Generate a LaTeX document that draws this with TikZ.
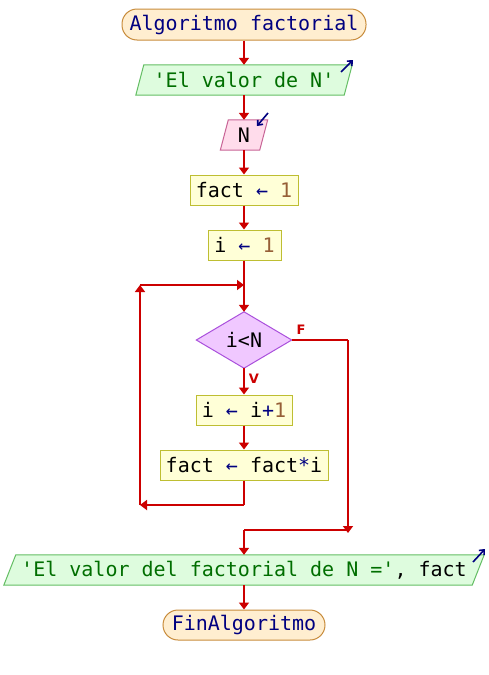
\documentclass[tikz,border=0pt]{standalone}
\usepackage{fontspec}
\setmonofont{DejaVu Sans Mono}
\setsansfont{DejaVu Sans}
\usetikzlibrary{arrows.meta}
\definecolor{kwc}{RGB}{0,0,128}
\definecolor{strc}{RGB}{0,110,0}
\definecolor{numc}{RGB}{150,95,55}
\definecolor{flow}{RGB}{204,0,0}
\definecolor{termfill}{RGB}{255,238,208}
\definecolor{termdraw}{RGB}{200,140,60}
\definecolor{outfill}{RGB}{222,252,222}
\definecolor{outdraw}{RGB}{100,190,100}
\definecolor{infill}{RGB}{255,220,235}
\definecolor{indraw}{RGB}{200,100,150}
\definecolor{procfill}{RGB}{255,255,215}
\definecolor{procdraw}{RGB}{190,190,50}
\definecolor{decfill}{RGB}{240,200,255}
\definecolor{decdraw}{RGB}{170,80,220}
\newcommand{\kwt}[1]{\textcolor{kwc}{#1}}
\newcommand{\strt}[1]{\textcolor{strc}{#1}}
\newcommand{\numt}[1]{\textcolor{numc}{#1}}
\newcommand{\asg}{\textcolor{kwc}{←}}
\begin{document}
\begin{tikzpicture}[x=1pt,y=-1pt,
  every node/.style={font=\ttfamily\fontsize{20}{20}\selectfont, inner sep=0pt},
  term/.style={draw=termdraw, fill=termfill, line width=1pt, rounded corners=15pt, minimum height=31pt},
  proc/.style={draw=procdraw, fill=procfill, line width=1pt, minimum height=30pt},
  txt/.style={minimum height=30pt},
  iobox/.style={draw=outdraw, fill=outfill, line width=1pt},
  inbox/.style={draw=indraw, fill=infill, line width=1pt},
  decbox/.style={draw=decdraw, fill=decfill, line width=1pt},
  flowline/.style={draw=flow, line width=2pt},
  flowarrow/.style={flowline, -{Triangle[length=7pt,width=10pt]}},
  icon/.style={draw=kwc, line width=1.6pt, -{Straight Barb[length=4pt,width=7pt]}},
  lbl/.style={font=\sffamily\bfseries\fontsize{13}{13}\selectfont, text=flow}
]
\useasboundingbox (0,0) rectangle (488,675);
\fill[white] (0,0) rectangle (488,675);

% start
\node[term, minimum width=244pt] (start) at (244,24.5) {\kwt{Algoritmo factorial}};

% output 1
\node[txt, minimum width=216pt] (o1) at (244,80) {};
\path[iobox] ([xshift=8pt]o1.north west) -- (o1.north east) -- ([xshift=-8pt]o1.south east) -- (o1.south west) -- cycle;
\node at (o1) {\strt{'El valor de N'}};
\coordinate (o1i1) at (341,72);
\coordinate (o1i2) at (353,60);
\draw[icon] (o1i1) -- (o1i2);

% input N
\node[txt, minimum width=47pt] (inN) at (244,135) {};
\path[inbox] ([xshift=8pt]inN.north west) -- (inN.north east) -- ([xshift=-8pt]inN.south east) -- (inN.south west) -- cycle;
\node at (inN) {N};
\coordinate (ni1) at (268,113);
\coordinate (ni2) at (257,126);
\draw[icon] (ni1) -- (ni2);

% processes
\node[proc, minimum width=108pt] (p1) at (244,190) {fact \asg{} \numt{1}};
\node[proc, minimum width=73pt] (p2) at (244.5,245) {i \asg{} \numt{1}};

% decision
\node[txt, minimum width=95pt, minimum height=56pt] (dia) at (244,340) {};
\path[decbox] (dia.north) -- (dia.east) -- (dia.south) -- (dia.west) -- cycle;
\node at (dia) {i<N};

\node[proc, minimum width=96pt] (p3) at (244,410) {i \asg{} i\kwt{+}\numt{1}};
\node[proc, minimum width=168pt] (p4) at (244,465) {fact \asg{} fact\kwt{*}i};

% output 2
\node[txt, minimum width=480pt] (o2) at (244,570) {};
\path[iobox] ([xshift=12pt]o2.north west) -- (o2.north east) -- ([xshift=-12pt]o2.south east) -- (o2.south west) -- cycle;
\node at (o2) {\strt{'El valor del factorial de N ='}, fact};
\coordinate (o2i1) at (473,562);
\coordinate (o2i2) at (485,549);
\draw[icon] (o2i1) -- (o2i2);

% end
\node[term, minimum width=162pt, minimum height=30pt] (fin) at (244,625) {\kwt{FinAlgoritmo}};

% junction coordinates
\coordinate (j1) at (244,285);
\coordinate (lt) at (140,285);
\coordinate (lb) at (140,505);
\coordinate (bb) at (244,505);
\coordinate (fr) at (348,340);
\coordinate (fb) at (348,530);
\coordinate (j2) at (244,530);

% connectors
\draw[flowarrow] (start.south) -- (start.south |- o1.north);
\draw[flowarrow] (o1.south) -- (inN.north);
\draw[flowarrow] (inN.south) -- (p1.north);
\draw[flowarrow] (p1.south) -- (p1.south |- p2.north);
\draw[flowarrow] (p2.south -| j1) -- (dia.north);
\draw[flowarrow] (dia.south) -- (p3.north);
\draw[flowarrow] (p3.south) -- (p4.north);
\draw[flowline] (p4.south) -- (bb);
\draw[flowarrow] (bb) -- (lb);
\draw[flowarrow] (lb) -- (lt);
\draw[flowarrow] (lt) -- (j1);
\draw[flowline] (dia.east) -- (fr);
\draw[flowarrow] (fr) -- ([yshift=-3pt]fb);
\draw[flowline] (fb) -- (j2);
\draw[flowarrow] (j2) -- (o2.north);
\draw[flowarrow] (o2.south) -- (fin.north);

% labels
\node[lbl] (lf) at (301,330) {F};
\node[lbl] (lv) at (254,379) {V};
\end{tikzpicture}
\end{document}
